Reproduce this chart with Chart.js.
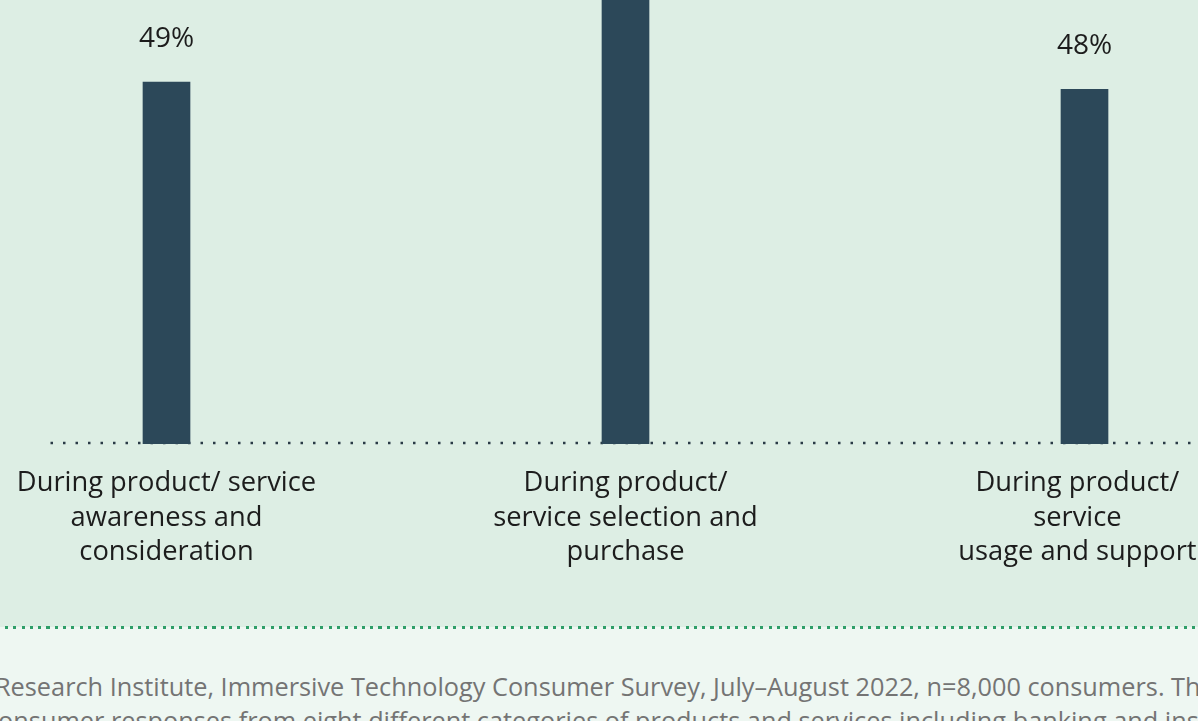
<!DOCTYPE html>
<html lang="en">
<head>
    <meta charset="UTF-8">
    <title>Immersive experiences across the purchase journey</title>
    <script src="https://cdn.jsdelivr.net/npm/chart.js"></script>
    <style>
        html, body { margin: 0; padding: 0; }
        body {
            width: 1198px; height: 721px; overflow: hidden; position: relative;
            background: #ddeee4;
            font-family: "Open Sans", "Noto Sans", sans-serif;
        }
        .plot { position: absolute; left: -63px; top: -198px; width: 1377px; height: 828px; }
        .footer {
            position: absolute; left: 0; top: 627px; width: 1198px; height: 94px;
            background: #eef7f2;
        }
        .footer .dots {
            position: absolute; left: 5px; top: -1px; width: 1193px; height: 3px;
            background: repeating-linear-gradient(to right, #2e9e68 0 3px, transparent 3px 8.3px);
        }
        .note {
            position: absolute; white-space: nowrap;
            font-size: 25.3px; color: #747474; font-weight: 400;
        }
        .note .cut { position: absolute; right: 100%; }
    </style>
</head>
<body>
    <div class="plot"><canvas id="chart" width="1377" height="828"></canvas></div>
    <div class="footer">
        <div class="dots"></div>
        <div class="note" style="left:-5px; top:42px;"><span class="cut">Source: Capgemini&nbsp;</span>Research Institute, Immersive Technology Consumer Survey, July–August 2022, n=8,000 consumers. The</div>
        <div class="note" style="left:-14px; top:76px;">consumer responses from eight different categories of products and services including banking and insurance</div>
    </div>

    <script>
        // trailing spaces nudge the last label block a little to the left
        const stages = [
            ['During product/ service', 'awareness and', 'consideration'],
            ['During product/', 'service selection and', 'purchase'],
            ['During product/  ', 'service  ', 'usage and support  ']
        ];
        const shares = [49, 64, 48];

        const barColor = '#2c4859';
        const textColor = '#1c1c1c';
        const fontFamily = '"Open Sans", "Noto Sans", sans-serif';

        // dotted baseline under the bars
        const baseline = {
            id: 'baseline',
            beforeDatasetsDraw(chart) {
                const { ctx, scales: { x, y } } = chart;
                const y0 = y.getPixelForValue(0) - 1;
                const start = x.getPixelForValue(0) - 116;
                ctx.save();
                ctx.strokeStyle = '#2a3a46';
                ctx.lineWidth = 2.5;
                ctx.setLineDash([2.5, 10]);
                ctx.beginPath();
                ctx.moveTo(start, y0);
                ctx.lineTo(chart.width, y0);
                ctx.stroke();
                ctx.restore();
            }
        };

        // percentage above each bar
        const valueLabels = {
            id: 'valueLabels',
            afterDatasetsDraw(chart) {
                const { ctx } = chart;
                const meta = chart.getDatasetMeta(0);
                ctx.save();
                ctx.fillStyle = textColor;
                ctx.font = `28px ${fontFamily}`;
                ctx.textAlign = 'center';
                ctx.textBaseline = 'middle';
                meta.data.forEach((bar, i) => {
                    ctx.fillText(shares[i] + '%', bar.x, bar.y - 43);
                });
                ctx.restore();
            }
        };

        new Chart(document.getElementById('chart'), {
            type: 'bar',
            data: {
                labels: stages,
                datasets: [{
                    data: shares,
                    backgroundColor: barColor,
                    barThickness: 47,
                    borderWidth: 0
                }]
            },
            options: {
                responsive: false,
                animation: false,
                maintainAspectRatio: false,
                layout: { padding: 0 },
                plugins: {
                    legend: { display: false },
                    tooltip: { enabled: false }
                },
                scales: {
                    x: {
                        grid: { display: false, drawTicks: false },
                        border: { display: false },
                        ticks: {
                            color: textColor,
                            padding: 22,
                            maxRotation: 0,
                            autoSkip: false,
                            font: { family: fontFamily, size: 27.3, lineHeight: 1.27 }
                        },
                        afterFit(scale) { scale.height = 186; }
                    },
                    y: {
                        display: false,
                        min: 0,
                        max: 86.9
                    }
                }
            },
            plugins: [baseline, valueLabels]
        });
    </script>
</body>
</html>
